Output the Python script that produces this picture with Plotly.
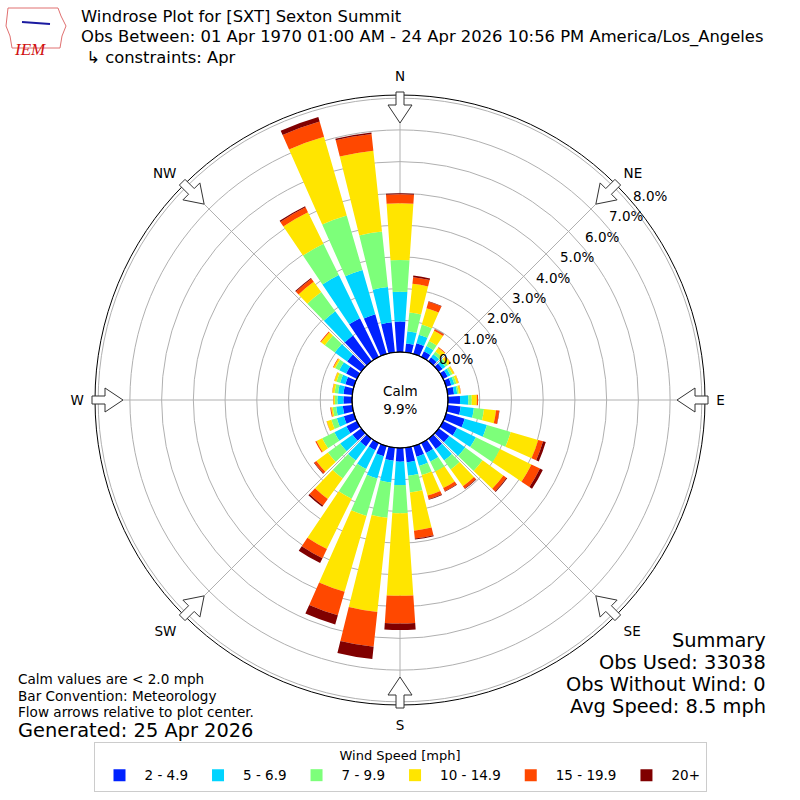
import math
import plotly.graph_objects as go

# direction bins (degrees, meteorological convention)
directions = list(range(0, 360, 10))

speed_bins = ["2 - 4.9", "5 - 6.9", "7 - 9.9", "10 - 14.9", "15 - 19.9", "20+"]
bin_colors = ["#0022ff", "#00d4ff", "#7dff7a", "#ffe500", "#ff4800", "#800000"]

# percent of observations per direction, one list per speed bin
pct_2_5 = [0.96, 0.28, 0.35, 0.20, 0.15, 0.15, 0.16, 0.17, 0.20, 0.38, 0.41, 0.61,
           0.49, 0.41, 0.40, 0.35, 0.35, 0.46, 0.43, 0.41, 0.33, 0.25, 0.30, 0.34,
           0.37, 0.33, 0.30, 0.27, 0.28, 0.28, 0.38, 0.55, 1.00, 1.36, 1.30, 0.95]
pct_5_7 = [0.94, 0.39, 0.28, 0.18, 0.12, 0.11, 0.10, 0.10, 0.10, 0.26, 0.42, 0.73,
           0.66, 0.62, 0.45, 0.30, 0.30, 0.43, 0.74, 0.69, 0.73, 0.66, 0.55, 0.48,
           0.42, 0.23, 0.21, 0.19, 0.17, 0.17, 0.24, 0.48, 0.95, 1.51, 1.45, 1.12]
pct_7_10 = [1.00, 0.59, 0.33, 0.18, 0.11, 0.09, 0.07, 0.07, 0.05, 0.11, 0.32, 0.78,
            0.85, 0.68, 0.35, 0.35, 0.30, 0.53, 0.89, 1.12, 1.23, 1.04, 0.70, 0.48,
            0.43, 0.18, 0.11, 0.08, 0.11, 0.12, 0.14, 0.39, 0.75, 1.10, 1.79, 1.76]
pct_10_15 = [1.79, 0.91, 0.54, 0.36, 0.15, 0.11, 0.06, 0.07, 0.06, 0.16, 0.38, 0.90,
             1.10, 0.81, 0.65, 0.58, 0.67, 1.21, 2.60, 2.99, 2.49, 1.77, 0.80, 0.45,
             0.20, 0.15, 0.05, 0.05, 0.07, 0.07, 0.06, 0.15, 0.40, 1.11, 2.58, 2.56]
pct_15_20 = [0.28, 0.21, 0.21, 0.05, 0.02, 0.02, 0.01, 0.01, 0.01, 0.04, 0.10, 0.16,
             0.30, 0.12, 0.09, 0.11, 0.12, 0.25, 0.87, 1.10, 0.77, 0.32, 0.25, 0.08,
             0.04, 0.01, 0.03, 0.01, 0.01, 0.01, 0.02, 0.03, 0.12, 0.17, 0.50, 0.53]
pct_20_up = [0.03, 0.05, 0.02, 0.01, 0.00, 0.00, 0.00, 0.00, 0.00, 0.00, 0.01, 0.09,
             0.10, 0.03, 0.02, 0.02, 0.02, 0.03, 0.21, 0.39, 0.30, 0.17, 0.05, 0.02,
             0.00, 0.00, 0.00, 0.00, 0.00, 0.00, 0.00, 0.00, 0.03, 0.04, 0.15, 0.05]

calm_pct = 9.9
radial_ticks = [0, 1, 2, 3, 4, 5, 6, 7, 8]
compass = ["N", "NE", "E", "SE", "S", "SW", "W", "NW"]

title_lines = [
    "Windrose Plot for [SXT] Sexton Summit",
    "Obs Between: 01 Apr 1970 01:00 AM - 24 Apr 2026 10:56 PM America/Los_Angeles",
    " ↳ constraints: Apr",
]
note_lines = ["Calm values are < 2.0 mph", "Bar Convention: Meteorology",
              "Flow arrows relative to plot center."]
summary_lines = ["Summary", "Obs Used: 33038", "Obs Without Wind: 0", "Avg Speed: 8.5 mph"]

series = [pct_2_5, pct_5_7, pct_7_10, pct_10_15, pct_15_20, pct_20_up]

FONT = "DejaVu Sans"
R_MAX = 8.1
R_PX = 305
HOLE_PX = 48

fig = go.Figure()

for name, color, vals in zip(speed_bins, bin_colors, series):
    fig.add_trace(
        go.Barpolar(
            r=vals,
            theta=directions,
            width=[7.8] * len(directions),
            name=name,
            marker=dict(color=color, line=dict(width=0)),
        )
    )


# px -> paper helpers (figure is 800x800)
def px(x):
    return x / 800


def py(y):
    return 1 - y / 800


# flow arrows drawn over the outer ring
shapes = []
cx, cy = 400, 400
arrow = [(308, -4), (295, -4), (295, -12), (277, 0), (295, 12), (295, 4), (308, 4)]
for k in range(8):
    th = math.radians(k * 45)
    ux, uy = math.sin(th), -math.cos(th)
    vx, vy = math.cos(th), math.sin(th)
    pts = []
    for s, t in arrow:
        X = cx + s * ux + t * vx
        Y = cy + s * uy + t * vy
        pts.append(f"{px(X):.5f},{py(Y):.5f}")
    shapes.append(dict(type="path", xref="paper", yref="paper",
                       path="M " + " L ".join(pts) + " Z",
                       fillcolor="white", line=dict(color="#333333", width=1),
                       layer="above"))

# calm circle outline
shapes.append(dict(type="circle", xref="paper", yref="paper",
                   x0=px(cx - HOLE_PX), x1=px(cx + HOLE_PX),
                   y0=py(cy + HOLE_PX), y1=py(cy - HOLE_PX),
                   line=dict(color="black", width=1.2), layer="above"))

# rough IEM logo: state outline + wind barb
logo = [(8, 8), (58, 8), (61, 16), (66, 26), (62, 36), (60, 48), (12, 48), (10, 36), (6, 26)]
shapes.append(dict(type="path", xref="paper", yref="paper",
                   path="M " + " L ".join(f"{px(a)},{py(b)}" for a, b in logo) + " Z",
                   line=dict(color="#e07070", width=1)))
shapes.append(dict(type="line", xref="paper", yref="paper",
                   x0=px(22), y0=py(22), x1=px(50), y1=py(24),
                   line=dict(color="#1a1aa0", width=2)))

annotations = [
    dict(text="<i>IEM</i>", x=px(30), y=py(38), xref="paper", yref="paper", showarrow=False,
         font=dict(family="Liberation Serif", size=17, color="#d01010"), xanchor="center"),
    dict(text=f"Calm<br>{calm_pct}%", x=0.5, y=0.5, xref="paper", yref="paper",
         showarrow=False, font=dict(family=FONT, size=13.5, color="black")),
    dict(text="Generated: 25 Apr 2026", x=px(16), y=py(730), xref="paper", yref="paper",
         showarrow=False, xanchor="left", yanchor="middle",
         font=dict(family=FONT, size=19.4, color="black")),
]

for i, line in enumerate(title_lines):
    annotations.append(dict(text=line, x=px(80), y=py(17 + 20 * i), xref="paper", yref="paper",
                            showarrow=False, xanchor="left", yanchor="middle", borderpad=0,
                            font=dict(family=FONT, size=16.4, color="black")))

for i, line in enumerate(note_lines):
    annotations.append(dict(text=line, x=px(16), y=py(679 + 16.5 * i), xref="paper", yref="paper",
                            showarrow=False, xanchor="left", yanchor="middle",
                            font=dict(family=FONT, size=13.6, color="black")))

for i, line in enumerate(summary_lines):
    annotations.append(dict(text=line, x=px(768), y=py(640 + 22 * i), xref="paper", yref="paper",
                            showarrow=False, xanchor="right", yanchor="middle",
                            font=dict(family=FONT, size=19.4, color="black")))

# radial tick labels set along a 40 degree ray, like the reference
lab_ang = math.radians(40)
for v in radial_ticks:
    rp = HOLE_PX + v * (R_PX - HOLE_PX) / R_MAX
    annotations.append(dict(text=f"{v:.1f}%", x=px(cx + rp * math.cos(lab_ang)),
                            y=py(cy - rp * math.sin(lab_ang)), xref="paper", yref="paper",
                            showarrow=False, xanchor="left", yanchor="bottom",
                            font=dict(family=FONT, size=13.5, color="black")))

fig.update_layout(
    width=800,
    height=800,
    margin=dict(l=0, r=0, t=0, b=0),
    paper_bgcolor="white",
    font=dict(family=FONT, size=13, color="black"),
    polar=dict(
        domain=dict(x=[px(cx - R_PX), px(cx + R_PX)], y=[py(cy + R_PX), py(cy - R_PX)]),
        bgcolor="white",
        hole=HOLE_PX / R_PX,
        barmode="stack",
        bargap=0,
        angularaxis=dict(
            rotation=90,
            direction="clockwise",
            tickmode="array",
            tickvals=[k * 45 for k in range(8)],
            ticktext=compass,
            ticks="outside",
            ticklen=8,
            tickcolor="rgba(0,0,0,0)",
            showline=True,
            linecolor="black",
            linewidth=1,
            gridcolor="#b0b0b0",
            gridwidth=1,
            tickfont=dict(family=FONT, size=13.5),
        ),
        radialaxis=dict(
            range=[0, R_MAX],
            tickmode="array",
            tickvals=radial_ticks,
            showticklabels=False,
            showline=False,
            ticks="",
            gridcolor="#b0b0b0",
            gridwidth=1,
        ),
    ),
    legend=dict(
        orientation="h",
        x=0.5,
        xanchor="center",
        y=py(742),
        yanchor="top",
        title=dict(text="Wind Speed [mph]", side="top center", font=dict(size=13)),
        font=dict(family=FONT, size=13.5),
        bordercolor="#cccccc",
        borderwidth=1,
        itemwidth=40,
        traceorder="normal",
    ),
    shapes=shapes,
    annotations=annotations,
)

fig.write_html("out.html", config={"displayModeBar": False},
               post_script="document.body.style.margin='0px';")
